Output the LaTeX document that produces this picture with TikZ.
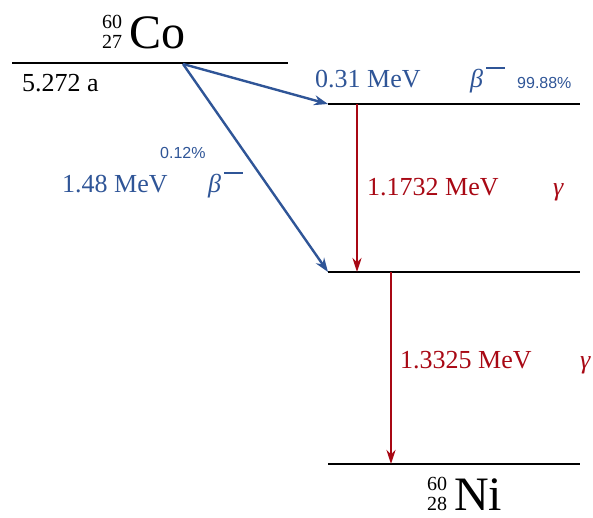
\documentclass[tikz,border=0pt]{standalone}
\usepackage{fontspec}
\setmainfont{Liberation Serif}
\newfontfamily\pctfont{Liberation Sans}
\usetikzlibrary{arrows.meta}

\definecolor{decayblue}{RGB}{47,85,151}
\definecolor{decayred}{RGB}{168,8,20}

\newcommand{\nuclide}[3]{{\fontsize{20}{20}\selectfont\begin{tabular}[b]{@{}r@{}}#1\\#2\end{tabular}}\hspace{7pt}{\fontsize{48}{48}\selectfont #3}}
\newcommand{\betaminus}{\textit{β}\hspace{3pt}\raisebox{0.68em}{\rule{19pt}{2.2pt}}}

\tikzset{
    level/.style={line width=2.6pt, black},
    betaarrow/.style={line width=2.4pt, decayblue, -{Stealth[length=14pt, width=10pt]}},
    gammaarrow/.style={line width=2.4pt, decayred, -{Stealth[length=14pt, width=9pt]}},
    txt/.style={anchor=base west, inner sep=0pt, font=\fontsize{26}{26}\selectfont},
    pct/.style={anchor=base west, inner sep=0pt, font=\pctfont\fontsize{16}{16}\selectfont},
}

\begin{document}
\begin{tikzpicture}[x=1pt, y=-1pt]
    \useasboundingbox (0,0) rectangle (593,517);

    \coordinate (Cl) at (12, 63);
    \coordinate (Cr) at (288, 63);
    \coordinate (C) at (183, 64);
    \coordinate (E1l) at (328, 104);
    \coordinate (E1r) at (580, 104);
    \coordinate (E2l) at (328, 272);
    \coordinate (E2r) at (580, 272);
    \coordinate (Gl) at (328, 464);
    \coordinate (Gr) at (580, 464);
    \coordinate (Ga) at (357, 104);
    \coordinate (Gb) at (357, 272);
    \coordinate (Gc) at (391, 272);
    \coordinate (Gd) at (391, 464);

    \draw[level] (Cl) -- (Cr);
    \draw[level] (E1l) -- (E1r);
    \draw[level] (E2l) -- (E2r);
    \draw[level] (Gl) -- (Gr);

    \draw[betaarrow] (C) -- (E1l);
    \draw[betaarrow] (C) -- (E2l);
    \draw[gammaarrow] (Ga) -- (Gb);
    \draw[gammaarrow] (Gc) -- (Gd);

    \node[anchor=base west, inner sep=0pt] (co) at (102, 48) {\nuclide{60}{27}{Co}};
    \node[anchor=base west, inner sep=0pt, text depth=0pt] (ni) at (427, 510) {\nuclide{60}{28}{Ni}};
    \node[txt] (half) at (22, 91) {5.272 a};

    \node[txt, decayblue] (e1) at (315, 87) {0.31 MeV};
    \node[txt, decayblue] (b1) at (470, 87) {\betaminus};
    \node[pct, decayblue] (p1) at (517, 88) {99.88\%};

    \node[txt, decayblue] (e2) at (62, 192) {1.48 MeV};
    \node[txt, decayblue] (b2) at (208, 192) {\betaminus};
    \node[pct, decayblue] (p2) at (160, 158) {0.12\%};

    \node[txt, decayred] (g1) at (367, 195) {1.1732 MeV};
    \node[txt, decayred] (y1) at (553, 195) {\textit{γ}};
    \node[txt, decayred] (g2) at (400, 368) {1.3325 MeV};
    \node[txt, decayred] (y2) at (580, 368) {\textit{γ}};
\end{tikzpicture}
\end{document}
